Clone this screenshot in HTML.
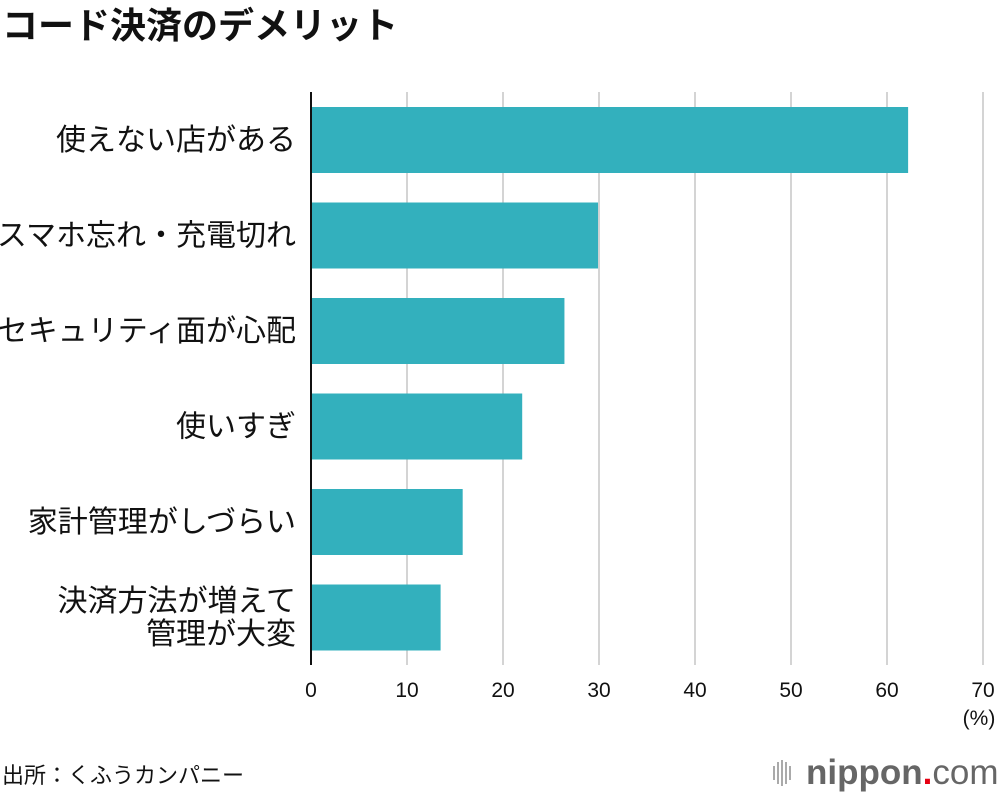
<!DOCTYPE html>
<html><head><meta charset="utf-8"><style>
body{margin:0;background:#fff;width:1000px;height:796px;overflow:hidden;font-family:"Liberation Sans","Noto Sans CJK JP",sans-serif}
</style></head><body>
<svg id="c" width="1000" height="796" xmlns="http://www.w3.org/2000/svg">
<text x="2" y="38" font-size="36" font-weight="bold" fill="#111" font-family="Liberation Sans,Noto Sans CJK JP,sans-serif">コード決済のデメリット</text>
<g id="grid"></g><g id="bars"></g><g id="ylab"></g><g id="xlab"></g>
<line x1="311" y1="92" x2="311" y2="665" stroke="#111" stroke-width="2"/>
<text x="979" y="725" font-size="21" text-anchor="middle" fill="#111">(%)</text>
<text x="2" y="783" font-size="22" fill="#111" font-family="Liberation Sans,Noto Sans CJK JP,sans-serif">出所：くふうカンパニー</text>
<g>
<rect x="773" y="766" width="2" height="14" fill="#aaa"/><rect x="777" y="762" width="2" height="22" fill="#aaa"/><rect x="781" y="760" width="2" height="26" fill="#aaa"/><rect x="785" y="762" width="2" height="22" fill="#aaa"/><rect x="789" y="766" width="2" height="14" fill="#aaa"/>
<text x="806" y="784" font-size="35" fill="#666" font-weight="bold">nippon<tspan fill="#e60012">.</tspan><tspan font-weight="normal">com</tspan></text>
</g>
</svg>
<script>
const categories=[["使えない店がある"],["スマホ忘れ・充電切れ"],["セキュリティ面が心配"],["使いすぎ"],["家計管理がしづらい"],["決済方法が増えて","管理が大変"]];
const values=[62.2,29.9,26.4,22.0,15.8,13.5];
const ticks=[0,10,20,30,40,50,60,70];
const NS="http://www.w3.org/2000/svg";
const x=v=>311+v*9.6;
const y=i=>107+i*95.5;
function mk(t,a,p){const e=document.createElementNS(NS,t);for(const k in a)e.setAttribute(k,a[k]);document.getElementById(p).appendChild(e);return e;}
ticks.forEach(t=>{
 if(t>0){const l=mk('line',{x1:x(t),x2:x(t),y1:92,y2:665,stroke:'#d4d4d4','stroke-width':2},'grid');
 
 }
 const tx=mk('text',{x:x(t),y:697,'font-size':21,'text-anchor':'middle',fill:'#111'},'xlab');tx.textContent=t;
 
 
});
values.forEach((v,i)=>{
 const r=mk('rect',{x:311,y:y(i),width:x(v)-311,height:66,fill:'#33b0bd'},'bars');
 
 
 const lines=categories[i];const cy=y(i)+33;
 lines.forEach((s,j)=>{
  const t=mk('text',{x:296,y:cy+10+(j-(lines.length-1)/2)*33,'font-size':30,'text-anchor':'end',fill:'#111','font-family':'Liberation Sans,Noto Sans CJK JP,sans-serif'},'ylab');
  t.textContent=s;
  
  
 });
});
</script>
</body></html>
